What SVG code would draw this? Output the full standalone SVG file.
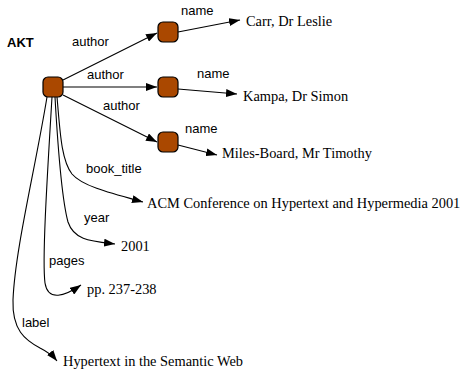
<svg xmlns="http://www.w3.org/2000/svg" width="464" height="372" viewBox="0 0 464 372">
  <style>
    .node { fill: #aa4800; stroke: #000; stroke-width: 1.2; }
    .edge { fill: none; stroke: #000; stroke-width: 1.1; marker-end: url(#arrow); }
    .lbl { font-family: "Liberation Sans", Arial, sans-serif; font-size: 13px; fill: #000; }
    .title { font-family: "Liberation Sans", Arial, sans-serif; font-size: 13px; font-weight: bold; fill: #000; }
    .val { font-family: "Liberation Serif", "Times New Roman", serif; font-size: 14.4px; fill: #000; }
  </style>
  <defs>
    <marker id="arrow" markerUnits="userSpaceOnUse" markerWidth="12" markerHeight="8" refX="11" refY="4" orient="auto">
      <path d="M0,0 L11,4 L0,8 Z" fill="#000"/>
    </marker>
  </defs>

  <rect width="464" height="372" fill="#fff"/>

  <text class="title" x="7" y="47">AKT</text>

  <!-- connectors -->
  <g id="edges">
    <path class="edge" d="M63,80 L157,33"/>
    <path class="edge" d="M63,87 L157,87"/>
    <path class="edge" d="M63,95 L157,142"/>
    <path class="edge" d="M178,32 L240,20"/>
    <path class="edge" d="M178,89 L237,94"/>
    <path class="edge" d="M178,145 L217,155"/>
    <path class="edge" d="M57,97 C60,130 61,160 72,174 C82,186 110,193 143,202"/>
    <path class="edge" d="M55,97 C58,150 62,200 68,222 C74,240 90,241 115,244"/>
    <path class="edge" d="M52,97 C47,180 42,260 45,283 C48,302 65,296 81,285"/>
    <path class="edge" d="M47,97 C35,170 15,250 13,300 C12,330 25,340 40,348 C48,352 53,356 57,361"/>
  </g>

  <!-- edge labels -->
  <g id="edge-labels">
    <text class="lbl" x="72" y="46">author</text>
    <text class="lbl" x="87" y="79">author</text>
    <text class="lbl" x="103" y="110">author</text>
    <text class="lbl" x="181" y="15">name</text>
    <text class="lbl" x="197" y="78">name</text>
    <text class="lbl" x="185" y="133">name</text>
    <text class="lbl" x="86" y="173">book_title</text>
    <text class="lbl" x="84" y="222">year</text>
    <text class="lbl" x="49" y="265">pages</text>
    <text class="lbl" x="22" y="327">label</text>
  </g>

  <!-- resource nodes -->
  <g id="paper"><rect class="node" x="43" y="77" width="20" height="20" rx="5"/></g>
  <g id="author1"><rect class="node" x="158" y="22" width="20" height="20" rx="5"/></g>
  <g id="author2"><rect class="node" x="158" y="77" width="20" height="20" rx="5"/></g>
  <g id="author3"><rect class="node" x="158" y="132" width="20" height="20" rx="5"/></g>

  <!-- literal values -->
  <g id="lit-carr"><text class="val" x="246" y="26">Carr, Dr Leslie</text></g>
  <g id="lit-kampa"><text class="val" x="243" y="101">Kampa, Dr Simon</text></g>
  <g id="lit-miles"><text class="val" x="222" y="158">Miles-Board, Mr Timothy</text></g>
  <g id="lit-booktitle"><text class="val" x="147" y="208">ACM Conference on Hypertext and Hypermedia 2001</text></g>
  <g id="lit-year"><text class="val" x="121" y="251">2001</text></g>
  <g id="lit-pages"><text class="val" x="87" y="294">pp. 237-238</text></g>
  <g id="lit-label"><text class="val" x="63" y="366">Hypertext in the Semantic Web</text></g>
</svg>
